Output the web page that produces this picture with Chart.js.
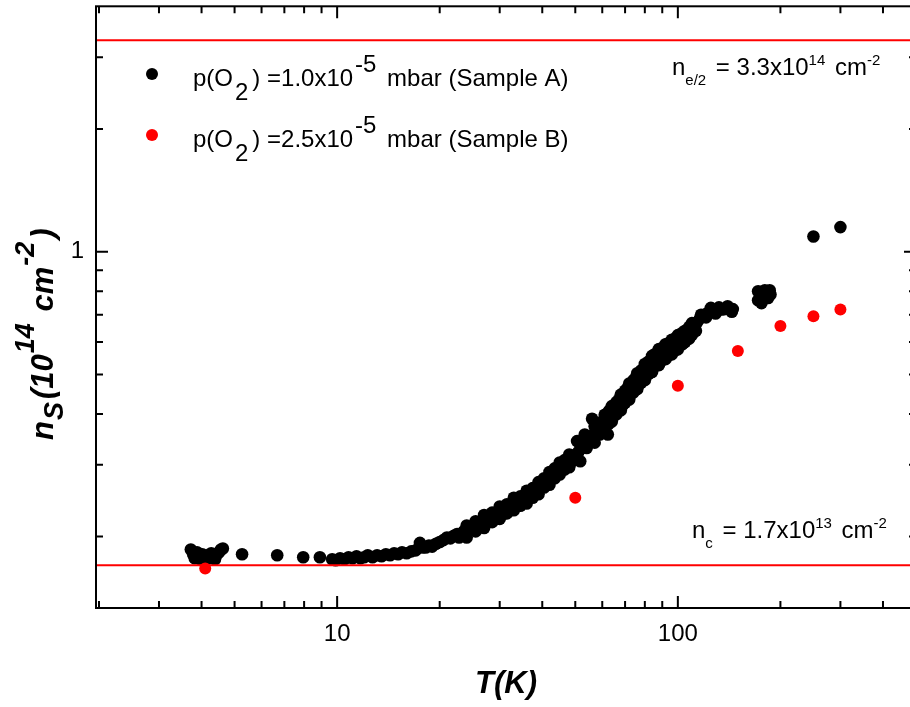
<!DOCTYPE html>
<html><head><meta charset="utf-8">
<script src="https://cdn.jsdelivr.net/npm/chart.js@4.4.1/dist/chart.umd.min.js"></script>
<style>html,body{margin:0;padding:0;overflow:hidden;background:#fff}#wrap{width:930px;height:707px}</style>
</head><body><div id="wrap"><canvas id="c" width="930" height="707"></canvas></div>
<script>
// ---- axis ranges & ticks ----
const X_MIN = 1.96, X_MAX = 500;
const Y_MIN = 0.1336, Y_MAX = 4.0;
const xTickValues = [2,3,4,5,6,7,8,9,10,20,30,40,50,60,70,80,90,100,200,300,400,500];
const xTickLabels = [10, 100];
const yTickValues = [0.2,0.3,0.4,0.5,0.6,0.7,0.8,0.9,1,2,3];
const yTickLabels = [1];

// ---- reference levels (10^14 cm^-2) ----
const N_C = 0.17;
const N_E2 = 3.3;

// ---- Sample A: p(O2)=1.0x10^-5 mbar ----
const tempA = [
 3.72,3.78,3.82,3.88,3.92,3.97,4.02,4.07,4.12,4.17,
 4.22,4.27,4.33,4.38,4.44,4.50,4.56,4.62,5.26,6.67,
 7.95,8.90,9.67,9.9,10.2,10.5,10.8,11.1,11.4,11.7,
 12.0,12.3,12.7,13.1,13.5,13.9,14.3,14.7,15.1,15.5,
 16.0,16.5,17.0,17.5,17.8,18.2,18.6,19.0,19.5,20.0,
 20.5,21.0,21.5,22.0,22.5,23.0,23.5,24.0,24.6,25.2,
 25.8,26.4,27.0,27.6,28.2,28.8,29.4,30.0,30.7,31.4,
 32.1,32.8,33.5,34.2,35.0,35.8,36.6,37.4,38.2,39.0,
 39.8,40.6,41.4,42.2,43.0,43.8,44.6,45.4,46.2,47.0,
 47.8,48.6,49.4,22.8,25.5,28.5,31.0,33.0,36.0,38.5,
 41.0,44.0,46.5,49.0,50.2,51.0,51.8,52.6,53.4,54.2,
 55.0,55.8,56.6,57.4,58.2,59.0,59.8,60.6,61.4,62.2,
 63.0,63.8,64.6,65.4,66.2,67.0,67.8,68.6,69.4,70.2,
 71.0,71.8,72.6,73.4,74.2,75.0,76.0,77.0,78.0,79.0,
 80.0,81.0,82.0,83.0,84.0,85.0,86.0,87.0,88.0,89.0,
 90.0,91.0,92.0,93.0,94.0,95.0,96.0,97.0,98.0,99.0,
 100,52.0,54.0,56.0,50.6,51.7,53.3,62.3,58.0,60.0,
 63.0,65.0,67.0,69.0,71.0,73.0,75.0,77.0,79.0,81.0,
 83.0,85.0,87.0,89.0,91.0,93.0,95.0,97.0,99.0,102,
 104,106,108,110,112,114,116,118,120,122,
 124,126,128,130,133,136,139,142,145,103,
 107,111,113,117,121,125,129,132,140,144,
 172,180,186,187,184,176,172,178,182,250,
 24,27,30,33,36,39,42,45,48,57,
 61,64,68,72,76,80,84,88,92,96,
 100,105,110,24,27,30,33,36,39,42,
 45,48,57,61,64,68,72,76,80,84,
 88,92,96,100,105,110,25.5,28.5,31.5,34.5,
 37.5,40.5,43.5,46.5,59,62.5,66,70,74,78,
 82,86,90,94,98,103,108,25.5,28.5,31.5,
 34.5,37.5,40.5,43.5,46.5,59,62.5,66,70,74,
 78,82,86,90,94,98,103,108,300
];
const nsA = [
 0.186,0.181,0.177,0.183,0.179,0.176,0.181,0.178,0.176,0.180,
 0.177,0.182,0.179,0.176,0.181,0.183,0.186,0.187,0.181,0.180,
 0.178,0.178,0.176,0.175,0.177,0.176,0.178,0.177,0.179,0.177,
 0.178,0.180,0.178,0.180,0.179,0.181,0.180,0.182,0.181,0.183,
 0.182,0.184,0.185,0.193,0.188,0.188,0.190,0.189,0.192,0.194,
 0.196,0.199,0.198,0.201,0.203,0.202,0.206,0.205,0.209,0.210,
 0.214,0.213,0.218,0.217,0.222,0.224,0.225,0.229,0.231,0.234,
 0.236,0.238,0.241,0.246,0.246,0.251,0.253,0.257,0.261,0.263,
 0.268,0.271,0.275,0.280,0.283,0.287,0.292,0.295,0.300,0.302,
 0.307,0.309,0.314,0.199,0.208,0.219,0.228,0.243,0.247,0.256,
 0.276,0.283,0.297,0.306,0.318,0.322,0.329,0.331,0.337,0.340,
 0.347,0.349,0.356,0.358,0.364,0.368,0.373,0.378,0.383,0.389,
 0.393,0.399,0.405,0.409,0.415,0.419,0.426,0.431,0.436,0.442,
 0.447,0.452,0.458,0.463,0.468,0.474,0.481,0.487,0.494,0.500,
 0.507,0.512,0.519,0.525,0.531,0.536,0.543,0.547,0.552,0.556,
 0.561,0.565,0.569,0.572,0.577,0.580,0.584,0.588,0.592,0.596,
 0.600,0.341,0.330,0.389,0.343,0.306,0.356,0.356,0.375,0.362,
 0.408,0.396,0.433,0.421,0.462,0.449,0.489,0.474,0.515,0.499,
 0.540,0.523,0.560,0.545,0.578,0.560,0.596,0.575,0.610,0.607,
 0.614,0.622,0.632,0.645,0.655,0.672,0.685,0.694,0.700,0.706,
 0.711,0.714,0.716,0.718,0.721,0.722,0.724,0.724,0.723,0.620,
 0.612,0.660,0.640,0.700,0.690,0.728,0.705,0.730,0.735,0.712,
 0.800,0.804,0.804,0.785,0.770,0.748,0.760,0.775,0.790,1.090,
 0.213,0.226,0.237,0.249,0.259,0.272,0.288,0.304,0.318,0.373,
 0.398,0.418,0.446,0.475,0.503,0.530,0.555,0.577,0.593,0.608,
 0.624,0.640,0.668,0.199,0.210,0.221,0.232,0.241,0.254,0.268,
 0.284,0.296,0.340,0.363,0.383,0.408,0.434,0.460,0.484,0.507,
 0.527,0.545,0.560,0.576,0.600,0.625,0.218,0.229,0.240,0.251,
 0.263,0.278,0.294,0.308,0.381,0.404,0.427,0.456,0.483,0.511,
 0.537,0.562,0.580,0.597,0.612,0.632,0.654,0.206,0.217,0.228,
 0.238,0.249,0.264,0.278,0.292,0.356,0.377,0.399,0.426,0.451,
 0.477,0.501,0.525,0.542,0.557,0.572,0.593,0.612,1.149
];

// ---- Sample B: p(O2)=2.5x10^-5 mbar ----
const tempB = [4.1, 50, 100, 150, 200, 250, 300];
const nsB = [0.167, 0.249, 0.469, 0.571, 0.657, 0.694, 0.721];

const COLOR_A = '#000000';
const COLOR_B = '#ff0000';
const FONT = '"Liberation Sans", Arial, sans-serif';

// rich-text label pieces (text, 0 normal / 1 subscript / -1 superscript)
const legendA = [['p(O',0],['2',1],[') =1.0x10',0],['-5',-1],[' mbar (Sample A)',0]];
const legendB = [['p(O',0],['2',1],[') =2.5x10',0],['-5',-1],[' mbar (Sample B)',0]];
const annotE2 = [['n',0],['e/2',1],[' = 3.3x10',0],['14',-1],[' cm',0],['-2',-1]];
const annotC  = [['n',0],['c',1],[' = 1.7x10',0],['13',-1],[' cm',0],['-2',-1]];
const yTitle  = [['n',0],['S',1],['(10',0],['14',-1],[' cm',0],['-2',-1],[')',0]];

function drawRich(ctx, x, y, segs, o) {
  let cx = x;
  segs.forEach(([t, k], i) => {
    const prev = i > 0 ? segs[i-1][1] : 0;
    if (k !== 0) { ctx.font = o.smallFont; cx += o.gapIn; }
    else { ctx.font = o.font; if (prev !== 0) cx += o.gapOut; }
    const dy = k > 0 ? o.subDy : (k < 0 ? o.supDy : 0);
    ctx.fillText(t, cx, y + dy);
    cx += ctx.measureText(t).width;
  });
}

const decorPlugin = {
  id: 'decor',
  afterDraw(chart) {
    const {ctx, chartArea: a, scales: {x, y}} = chart;
    ctx.save();
    ctx.strokeStyle = '#000';
    ctx.lineWidth = 2;
    ctx.strokeRect(a.left, a.top, a.right - a.left, a.bottom - a.top);
    ctx.beginPath();
    x.ticks.forEach(t => {
      const px = x.getPixelForValue(t.value);
      const len = xTickLabels.includes(t.value) ? 12 : 7;
      ctx.moveTo(px, a.bottom); ctx.lineTo(px, a.bottom - len);
      ctx.moveTo(px, a.top); ctx.lineTo(px, a.top + len);
    });
    y.ticks.forEach(t => {
      const py = y.getPixelForValue(t.value);
      const len = yTickLabels.includes(t.value) ? 12 : 7;
      ctx.moveTo(a.left, py); ctx.lineTo(a.left + len, py);
      ctx.moveTo(a.right, py); ctx.lineTo(a.right - len, py);
    });
    ctx.stroke();

    ctx.fillStyle = '#000';
    ctx.textBaseline = 'alphabetic';
    ctx.textAlign = 'left';
    const lg = {font: '24px ' + FONT, smallFont: '24px ' + FONT, subDy: 14, supDy: -14, gapIn: 2, gapOut: 4};
    [[legendA, COLOR_A, 74, 86], [legendB, COLOR_B, 135, 147]].forEach(([segs, col, dotY, base]) => {
      ctx.fillStyle = col;
      ctx.beginPath(); ctx.arc(152, dotY, 6, 0, Math.PI * 2); ctx.fill();
      ctx.fillStyle = '#000';
      drawRich(ctx, 193, base, segs, lg);
    });
    const an = {font: '24px ' + FONT, smallFont: '15px ' + FONT, subDy: 10, supDy: -10, gapIn: 0, gapOut: 3};
    drawRich(ctx, 672, 75, annotE2, an);
    drawRich(ctx, 692, 538, annotC, an);
    ctx.translate(53, 440);
    ctx.rotate(-Math.PI / 2);
    const yt = {font: 'italic bold 31px ' + FONT, smallFont: 'italic bold 27px ' + FONT, subDy: 10, supDy: -19, gapIn: 1, gapOut: 3};
    drawRich(ctx, 0, 0, yTitle, yt);
    ctx.restore();
  }
};

const ptsA = tempA.map((t, i) => ({x: t, y: nsA[i]}));
const ptsB = tempB.map((t, i) => ({x: t, y: nsB[i]}));

new Chart(document.getElementById('c'), {
  type: 'scatter',
  data: {
    datasets: [
      {label: 'A', data: ptsA, backgroundColor: COLOR_A, borderWidth: 0, pointRadius: 6.3, order: 3},
      {label: 'nc', data: [{x: X_MIN, y: N_C}, {x: X_MAX, y: N_C}], showLine: true, borderColor: COLOR_B, borderWidth: 2, pointRadius: 0, order: 2},
      {label: 'ne2', data: [{x: X_MIN, y: N_E2}, {x: X_MAX, y: N_E2}], showLine: true, borderColor: COLOR_B, borderWidth: 2, pointRadius: 0, order: 2},
      {label: 'B', data: ptsB, backgroundColor: COLOR_B, borderWidth: 0, pointRadius: 6, order: 1}
    ]
  },
  options: {
    responsive: false,
    devicePixelRatio: 1,
    animation: false,
    events: [],
    layout: {padding: {left: 0, right: 14, top: 2, bottom: 0}},
    plugins: {legend: {display: false}, tooltip: {enabled: false}},
    scales: {
      x: {
        type: 'logarithmic', min: X_MIN, max: X_MAX,
        grid: {display: false, drawTicks: false},
        border: {display: false},
        afterBuildTicks: s => { s.ticks = xTickValues.map(v => ({value: v})); },
        afterFit: s => { s.height = 99; s.paddingLeft = 0; s.paddingRight = 0; },
        ticks: {
          autoSkip: false, maxRotation: 0, padding: 12, color: '#000',
          font: {family: FONT, size: 24},
          callback: v => xTickLabels.includes(v) ? String(v) : ''
        },
        title: {display: true, text: 'T(K)', color: '#000', padding: {top: 0, bottom: 4},
                font: {family: FONT, size: 31, style: 'italic', weight: 'bold'}}
      },
      y: {
        type: 'logarithmic', min: Y_MIN, max: Y_MAX,
        grid: {display: false, drawTicks: false},
        border: {display: false},
        afterBuildTicks: s => { s.ticks = yTickValues.map(v => ({value: v})); },
        afterFit: s => { s.width = 96; s.paddingTop = 0; s.paddingBottom = 0; },
        ticks: {
          autoSkip: false, padding: 12, color: '#000',
          font: {family: FONT, size: 24},
          callback: v => yTickLabels.includes(v) ? String(v) : ''
        }
      }
    }
  },
  plugins: [decorPlugin]
});
</script>
</body></html>
